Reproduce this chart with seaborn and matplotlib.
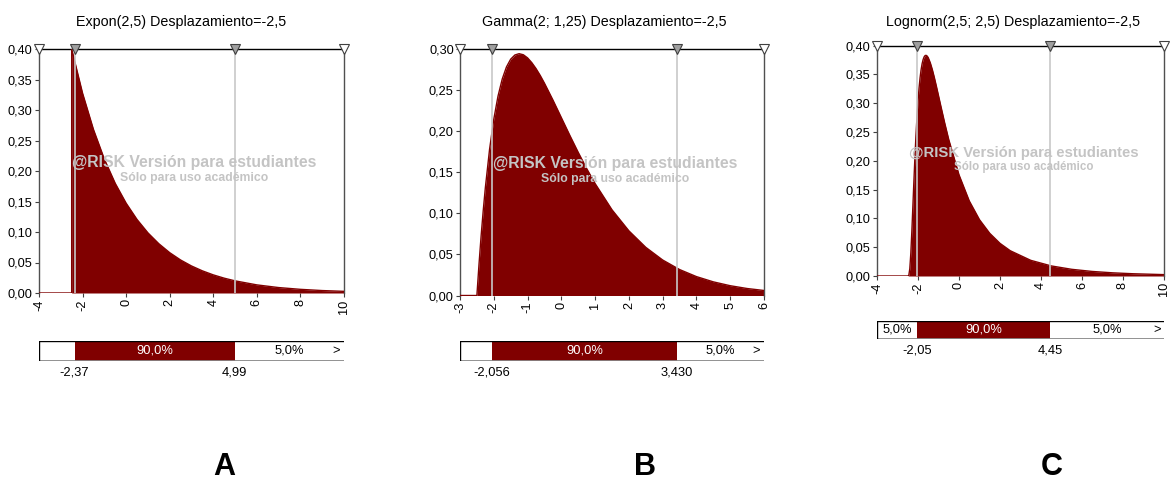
import matplotlib
matplotlib.use("Agg")
import matplotlib.pyplot as plt
import seaborn as sns
import pandas as pd

# ---------------- data ----------------
titles = ["Expon(2,5) Desplazamiento=-2,5",
          "Gamma(2; 1,25) Desplazamiento=-2,5",
          "Lognorm(2,5; 2,5) Desplazamiento=-2,5"]
panel_letters = ["A", "B", "C"]

expon_x = [-4.0, -2.5, -2.5, -2.0, -1.5, -1.0, -0.5, 0.0, 0.5, 1.0, 1.5, 2.0, 2.5,
           3.0, 3.5, 4.0, 4.5, 5.0, 6.0, 7.0, 8.0, 9.0, 10.0]
expon_y = [0.0, 0.0, 0.400, 0.3275, 0.2681, 0.2195, 0.1797, 0.1472, 0.1205, 0.0986,
           0.0808, 0.0661, 0.0541, 0.0443, 0.0363, 0.0297, 0.0243, 0.0199, 0.0133,
           0.0089, 0.0060, 0.0040, 0.0027]

gamma_x = [-3.0, -2.5, -2.4375, -2.375, -2.3125, -2.25, -2.125, -2.0, -1.875, -1.75,
           -1.625, -1.5, -1.375, -1.25, -1.125, -1.0, -0.875, -0.75, -0.625, -0.5,
           -0.25, 0.0, 0.25, 0.5, 0.75, 1.0, 1.5, 2.0, 2.5, 3.0, 3.5, 4.0, 4.5, 5.0,
           5.5, 6.0]
gamma_y = [0.0, 0.0, 0.0380, 0.0724, 0.1033, 0.1310, 0.1778, 0.2145, 0.2426, 0.2634,
           0.2781, 0.2876, 0.2927, 0.2943, 0.2930, 0.2892, 0.2834, 0.2762, 0.2678,
           0.2584, 0.2380, 0.2165, 0.1950, 0.1742, 0.1545, 0.1362, 0.1043, 0.0787,
           0.0586, 0.0432, 0.0316, 0.0230, 0.0166, 0.0119, 0.0085, 0.0061]

lognorm_x = [-4.0, -2.5, -2.45, -2.4, -2.35, -2.3, -2.25, -2.2, -2.15, -2.1, -2.05,
             -2.0, -1.95, -1.9, -1.85, -1.8, -1.75, -1.7, -1.65, -1.6, -1.55, -1.5,
             -1.4, -1.3, -1.2, -1.1, -1.0, -0.9, -0.7, -0.5, 0.0, 0.5, 1.0, 1.5, 2.0,
             2.5, 3.5, 4.5, 5.5, 6.5, 7.5, 8.5, 10.0]
lognorm_y = [0.0, 0.0, 0.0010, 0.0125, 0.0397, 0.0780, 0.1213, 0.1651, 0.2065, 0.2436,
             0.2759, 0.3033, 0.3260, 0.3441, 0.3581, 0.3686, 0.3760, 0.3807, 0.3830,
             0.3832, 0.3819, 0.3792, 0.3703, 0.3584, 0.3444, 0.3291, 0.3133, 0.2974,
             0.2662, 0.2370, 0.1758, 0.1305, 0.0978, 0.0741, 0.0567, 0.0439, 0.0272,
             0.0175, 0.0116, 0.0079, 0.0055, 0.0039, 0.0024]

curves_x = [expon_x, gamma_x, lognorm_x]
curves_y = [expon_y, gamma_y, lognorm_y]

lower_p = [-2.37, -2.056, -2.05]
upper_p = [4.99, 3.430, 4.45]
lower_txt = ["-2,37", "-2,056", "-2,05"]
upper_txt = ["4,99", "3,430", "4,45"]
left_pct = ["", "", "5,0%"]
mid_pct = ["90,0%", "90,0%", "90,0%"]
right_pct = ["5,0%", "5,0%", "5,0%"]

x_min = [-4, -3, -4]
x_max = [10, 6, 10]
x_step = [2, 1, 2]
y_max = [0.40, 0.30, 0.40]
y_step = 0.05

# ---------------- style ----------------
sns.set_theme(style="white")
plt.rcParams['font.family'] = ['Liberation Sans', 'DejaVu Sans']
plt.rcParams['text.color'] = 'black'
plt.rcParams['xtick.color'] = 'black'
plt.rcParams['ytick.color'] = 'black'
plt.rcParams['axes.labelcolor'] = 'black'

RED = "#800000"
W, H = 1171, 480
fig = plt.figure(figsize=(W / 100, H / 100), dpi=100)


def rect(l, t, r, b):
    return [l / W, 1 - b / H, (r - l) / W, (b - t) / H]


main_px = [(39, 49, 344, 293), (460, 49, 764, 295.5), (877, 45.7, 1164, 276)]
bar_px = [(39, 340.7, 344, 361), (460, 340.7, 764, 361), (877, 320.7, 1164, 339.3)]
title_px = [(181, 22), (604, 22), (1013, 22)]
letter_px = [(224, 467), (645, 467), (1052, 467)]
wm_size = [(11.3, 8.8), (11.3, 8.8), (10.7, 8.3)]


def fmt(v, nd=2):
    return f"{v:.{nd}f}".replace(".", ",")


for i in range(3):
    ax = fig.add_axes(rect(*main_px[i]))
    df = pd.DataFrame({"x": curves_x[i], "y": curves_y[i]})
    ax.fill_between(df["x"], 0, df["y"], color=RED, linewidth=0, zorder=2)
    sns.lineplot(data=df, x="x", y="y", ax=ax, color=RED, sort=False,
                 estimator=None, linewidth=1.0, zorder=3)
    ax.set_xlim(x_min[i], x_max[i])
    ax.set_ylim(0, y_max[i])
    ax.set_xlabel("")
    ax.set_ylabel("")

    xt = list(range(x_min[i], x_max[i] + 1, x_step[i]))
    ax.set_xticks(xt)
    ax.set_xticklabels([str(v) for v in xt], rotation=90, fontsize=9.2, color="black")
    nyt = int(round(y_max[i] / y_step))
    yt = [k * y_step for k in range(nyt + 1)]
    ax.set_yticks(yt)
    ax.set_yticklabels([fmt(v) for v in yt], fontsize=9.2, color="black")
    ax.tick_params(axis="both", direction="out", length=3, width=0.8,
                   color="#404040", pad=1.5, left=True, bottom=True)
    ax.grid(False)

    for s in ["left", "right"]:
        ax.spines[s].set_color("#505050")
        ax.spines[s].set_linewidth(1.0)
    ax.spines["top"].set_color("black")
    ax.spines["top"].set_linewidth(1.0)
    ax.spines["bottom"].set_visible(False)

    # percentile lines
    for p in (lower_p[i], upper_p[i]):
        ax.axvline(p, color="#c8c8c8", linewidth=1.2, zorder=4)

    # watermark
    ax.text(0.51, 0.535, "@RISK Versión para estudiantes", transform=ax.transAxes,
            ha="center", va="center", fontsize=wm_size[i][0], fontweight="bold",
            color="#c4c4c4", zorder=6)
    ax.text(0.51, 0.472, "Sólo para uso académico", transform=ax.transAxes,
            ha="center", va="center", fontsize=wm_size[i][1], fontweight="bold",
            color="#c4c4c4", zorder=6)

    # triangles on top
    ax.plot([x_min[i], x_max[i]], [y_max[i]] * 2, linestyle="none", marker="v",
            markersize=7, markerfacecolor="white", markeredgecolor="#404040",
            markeredgewidth=0.8, clip_on=False, zorder=8)
    ax.plot([lower_p[i], upper_p[i]], [y_max[i]] * 2, linestyle="none", marker="v",
            markersize=7, markerfacecolor="#a0a0a0", markeredgecolor="#404040",
            markeredgewidth=0.8, clip_on=False, zorder=8)

    # title
    fig.text(title_px[i][0] / W, 1 - title_px[i][1] / H, titles[i],
             ha="center", va="center", fontsize=10.3, color="black")
    # letter
    fig.text(letter_px[i][0] / W, 1 - letter_px[i][1] / H, panel_letters[i],
             ha="center", va="center", fontsize=22, fontweight="bold", color="black")

    # ---------------- percentile bar ----------------
    bx = fig.add_axes(rect(*bar_px[i]))
    bx.set_xlim(x_min[i], x_max[i])
    bx.set_ylim(0, 1)
    bx.barh(0.5, upper_p[i] - lower_p[i], left=lower_p[i], height=1.0,
            color=RED, linewidth=0)
    bx.axhline(1, color="black", linewidth=1.0)
    bx.axhline(0, color="#888888", linewidth=2.0)
    bx.axvline(x_min[i], color="black", linewidth=1.0)
    for s in bx.spines.values():
        s.set_visible(False)
    bx.set_xticks([])
    bx.set_yticks([])
    bx.grid(False)

    bx.text((lower_p[i] + upper_p[i]) / 2, 0.5, mid_pct[i], ha="center", va="center",
            color="white", fontsize=9.3)
    bx.text((upper_p[i] + x_max[i]) / 2, 0.5, right_pct[i], ha="center", va="center",
            color="black", fontsize=9.3)
    if left_pct[i]:
        bx.text((lower_p[i] + x_min[i]) / 2, 0.5, left_pct[i], ha="center",
                va="center", color="black", fontsize=9.3)
    bx.text(x_max[i] - 0.012 * (x_max[i] - x_min[i]), 0.5, ">", ha="right",
            va="center", color="black", fontsize=9.3)

    for p, t in ((lower_p[i], lower_txt[i]), (upper_p[i], upper_txt[i])):
        bx.annotate(t, xy=(p, 0), xycoords=("data", "axes fraction"),
                    xytext=(0, -8), textcoords="offset points",
                    ha="center", va="center", fontsize=9.3, color="black")

fig.savefig("out.png", dpi=100, facecolor="white")
